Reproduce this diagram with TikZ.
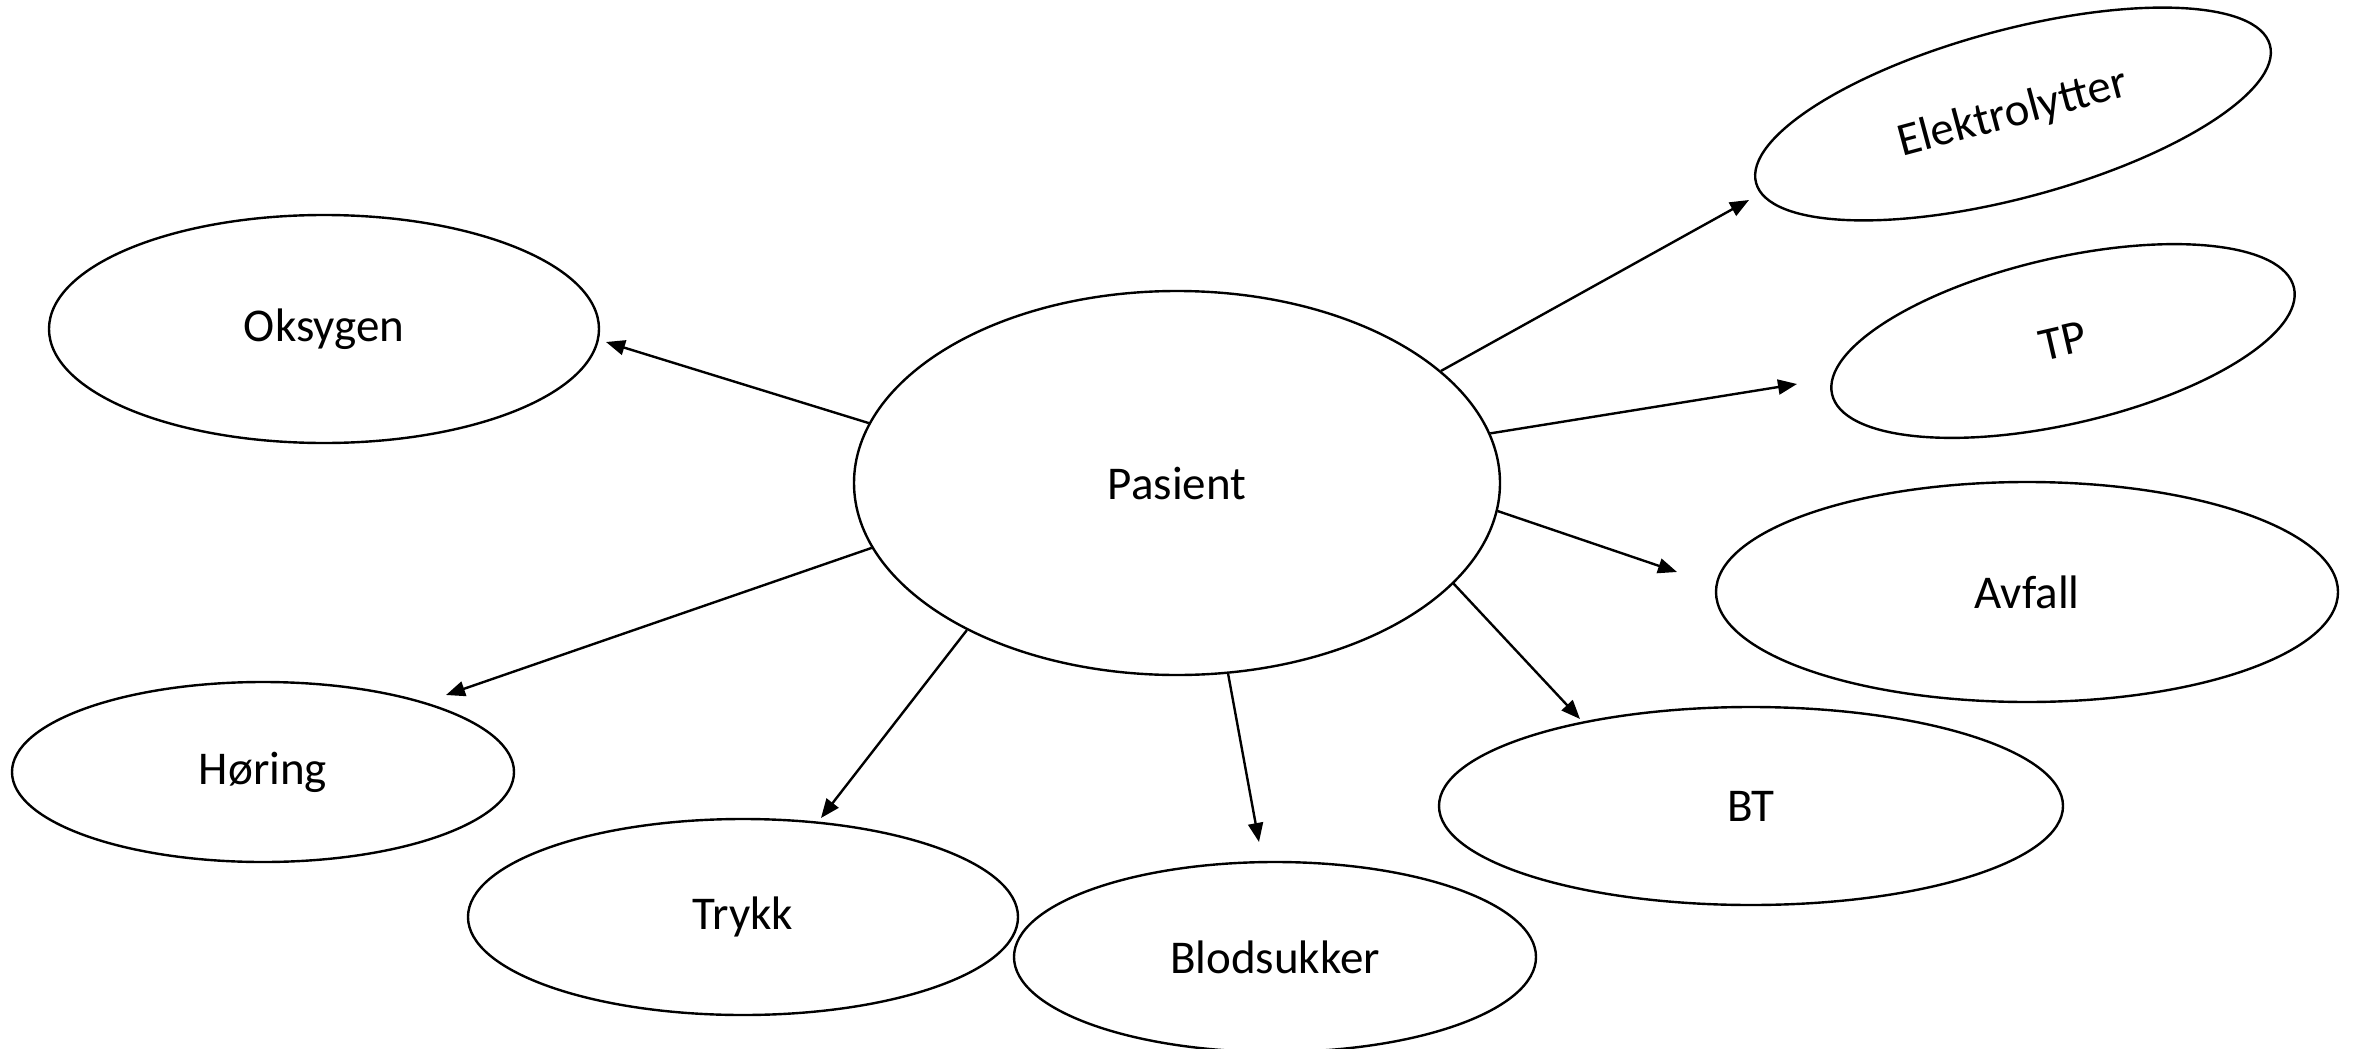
\documentclass[tikz,border=0pt]{standalone}
\usepackage{fontspec}
\setmainfont{Carlito}
\usetikzlibrary{shapes.geometric,arrows.meta}
\begin{document}
\begin{tikzpicture}[x=1pt,y=1pt,
  bubble/.style={ellipse,draw=black,line width=2.4pt,inner sep=0pt,
    font=\fontsize{47}{56}\selectfont},
  link/.style={line width=2.4pt,-{Triangle[length=19pt,width=15pt]}}]
\useasboundingbox (0,0) rectangle (2354,-1049);
\node[bubble,minimum width=646pt,minimum height=384pt] (p) at (1177,-483) {Pasient};
\node[bubble,minimum width=550pt,minimum height=228pt] (oks) at (324,-329) {Oksygen};
\node[bubble,minimum width=532pt,minimum height=168pt,rotate=15] (ele) at (2013,-114) {Elektrolytter};
\node[bubble,minimum width=474pt,minimum height=166pt,rotate=13] (tp) at (2063,-341) {TP};
\node[bubble,minimum width=622pt,minimum height=220pt] (avf) at (2027,-592) {Avfall};
\node[bubble,minimum width=624pt,minimum height=198pt] (bt) at (1751,-806) {BT};
\node[bubble,minimum width=522pt,minimum height=190pt] (blod) at (1275,-957) {Blodsukker};
\node[bubble,minimum width=550pt,minimum height=196pt] (tryk) at (743,-917) {Trykk};
\node[bubble,minimum width=502pt,minimum height=180pt] (hor) at (263,-772) {Høring};
\coordinate (eoks) at (606,-342);
\coordinate (eele) at (1749,-200);
\coordinate (etp) at (1797,-384);
\coordinate (eavf) at (1677,-572);
\coordinate (ebt) at (1580,-719);
\coordinate (eblod) at (1259,-842);
\coordinate (etryk) at (821,-818);
\coordinate (ehor) at (446,-695);
\draw[link] (p.169.5) -- (eoks);
\draw[link] (p.23.6) -- (eele);
\draw[link] (p.9.9) -- (etp);
\draw[link] (p.-5.9) -- (eavf);
\draw[link] (p.-20) -- (ebt);
\draw[link] (p.-75) -- (eblod);
\draw[link] (p.215.9) -- (etryk);
\draw[link] (p.192) -- (ehor);
\end{tikzpicture}
\end{document}
